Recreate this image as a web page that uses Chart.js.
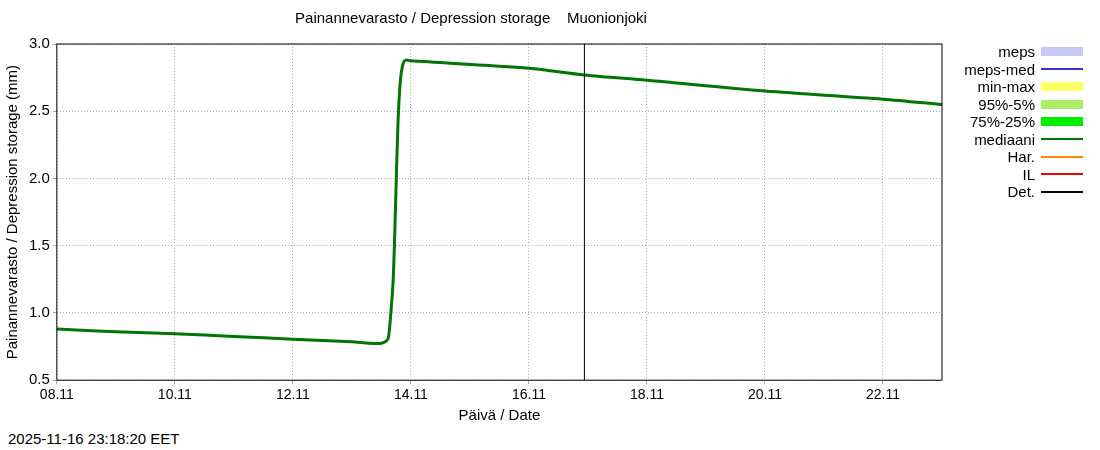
<!DOCTYPE html>
<html><head><meta charset="utf-8">
<script src="https://cdn.jsdelivr.net/npm/chart.js@4"></script>
<style>
body{margin:0;width:1100px;height:450px;background:#fff;font-family:"Liberation Sans",Arial,sans-serif;position:relative}
#wrap{position:absolute;left:0;top:0;width:960px;height:450px}
#legend{position:absolute;left:940px;top:43px;font-size:15px;line-height:17.5px}
#legend div{display:flex;justify-content:flex-end;align-items:center;width:143px}
#legend span{display:inline-block;width:42px;margin-left:6px}
#stamp{position:absolute;left:8px;top:430px;font-size:15px}
</style></head><body>
<div id="wrap"><canvas id="c" width="960" height="425"></canvas></div>
<div id="legend"></div>
<div id="stamp">2025-11-16 23:18:20 EET</div>
<script>
// x in days from 08.11 00:00
var tickLabels = ['08.11','10.11','12.11','14.11','16.11','18.11','20.11','22.11']
var detX = [0, 1, 2, 3, 4, 5, 5.3, 5.5, 5.58, 5.62, 5.66, 5.7, 5.74, 5.78, 5.82, 5.87, 5.92, 6, 8, 8.94, 10, 12, 14, 15]
var detY = [0.88, 0.86, 0.845, 0.825, 0.805, 0.785, 0.775, 0.775, 0.79, 0.82, 1.0, 1.25, 1.8, 2.4, 2.72, 2.86, 2.88, 2.875, 2.82, 2.77, 2.73, 2.65, 2.59, 2.55]
var forecastStart = 8.94

var legendItems = [
  ['meps', '#c8c8f5', 9], ['meps-med', '#3333cc', 2], ['min-max', '#ffff66', 9],
  ['95%-5%', '#aaee66', 9], ['75%-25%', '#00ee00', 9], ['mediaani', '#007700', 2],
  ['Har.', '#ff8800', 2], ['IL', '#ee0000', 2], ['Det.', '#000000', 2]
]
var lg = document.getElementById('legend')
legendItems.forEach(function(it){
  var d = document.createElement('div')
  d.innerHTML = it[0] + '<span style="height:' + it[2] + 'px;background:' + it[1] + '"></span>'
  lg.appendChild(d)
})

var pts = detX.map(function(v, i){ return {x: v, y: detY[i]} })

var vline = {
  id: 'vline',
  afterDatasetsDraw: function(ch){
    var xs = ch.scales.x, a = ch.chartArea, c = ch.ctx
    var px = xs.getPixelForValue(forecastStart)
    c.save(); c.strokeStyle = '#000'; c.lineWidth = 1
    c.beginPath(); c.moveTo(px, a.top); c.lineTo(px, a.bottom); c.stroke()
    c.strokeRect(a.left, a.top, a.right - a.left, a.bottom - a.top)
    c.restore()
  }
}

new Chart(document.getElementById('c'), {
  type: 'line',
  plugins: [vline],
  data: {
    datasets: [
      {label: 'mediaani', data: pts, borderColor: '#007700', borderWidth: 3, pointRadius: 0, tension: 0.3},
      {label: 'Det.', data: pts, borderColor: '#000', borderWidth: 1.5, pointRadius: 0, tension: 0.3}
    ]
  },
  options: {
    responsive: false, animation: false,
    layout: {padding: {left: 0, right: 18, top: 10, bottom: 0}},
    plugins: {
      legend: {display: false},
      title: {display: true, text: 'Painannevarasto / Depression storage    Muonionjoki', color: '#000',
        font: {size: 15, weight: 'normal', family: 'Liberation Sans'}, padding: {top: 0, bottom: 16}}
    },
    scales: {
      x: {
        type: 'linear', min: 0, max: 15,
        afterBuildTicks: function(ax){ ax.ticks = tickLabels.map(function(l, i){ return {value: i * 2} }) },
        ticks: {color: '#000', font: {size: 14}, callback: function(v){ return tickLabels[v / 2] }, maxRotation: 0},
        grid: {color: '#aaa', tickLength: 4},
        border: {display: false, dash: [1, 2]},
        title: {display: true, text: 'Päivä / Date', color: '#000', font: {size: 15}, padding: 0}
      },
      y: {
        min: 0.5, max: 3,
        ticks: {stepSize: 0.5, color: '#000', font: {size: 15}},
        grid: {color: '#aaa', tickLength: 4},
        border: {display: false, dash: [1, 2]},
        title: {display: true, text: 'Painannevarasto / Depression storage (mm)', color: '#000', font: {size: 15}}
      }
    }
  }
})
</script>
</body></html>
